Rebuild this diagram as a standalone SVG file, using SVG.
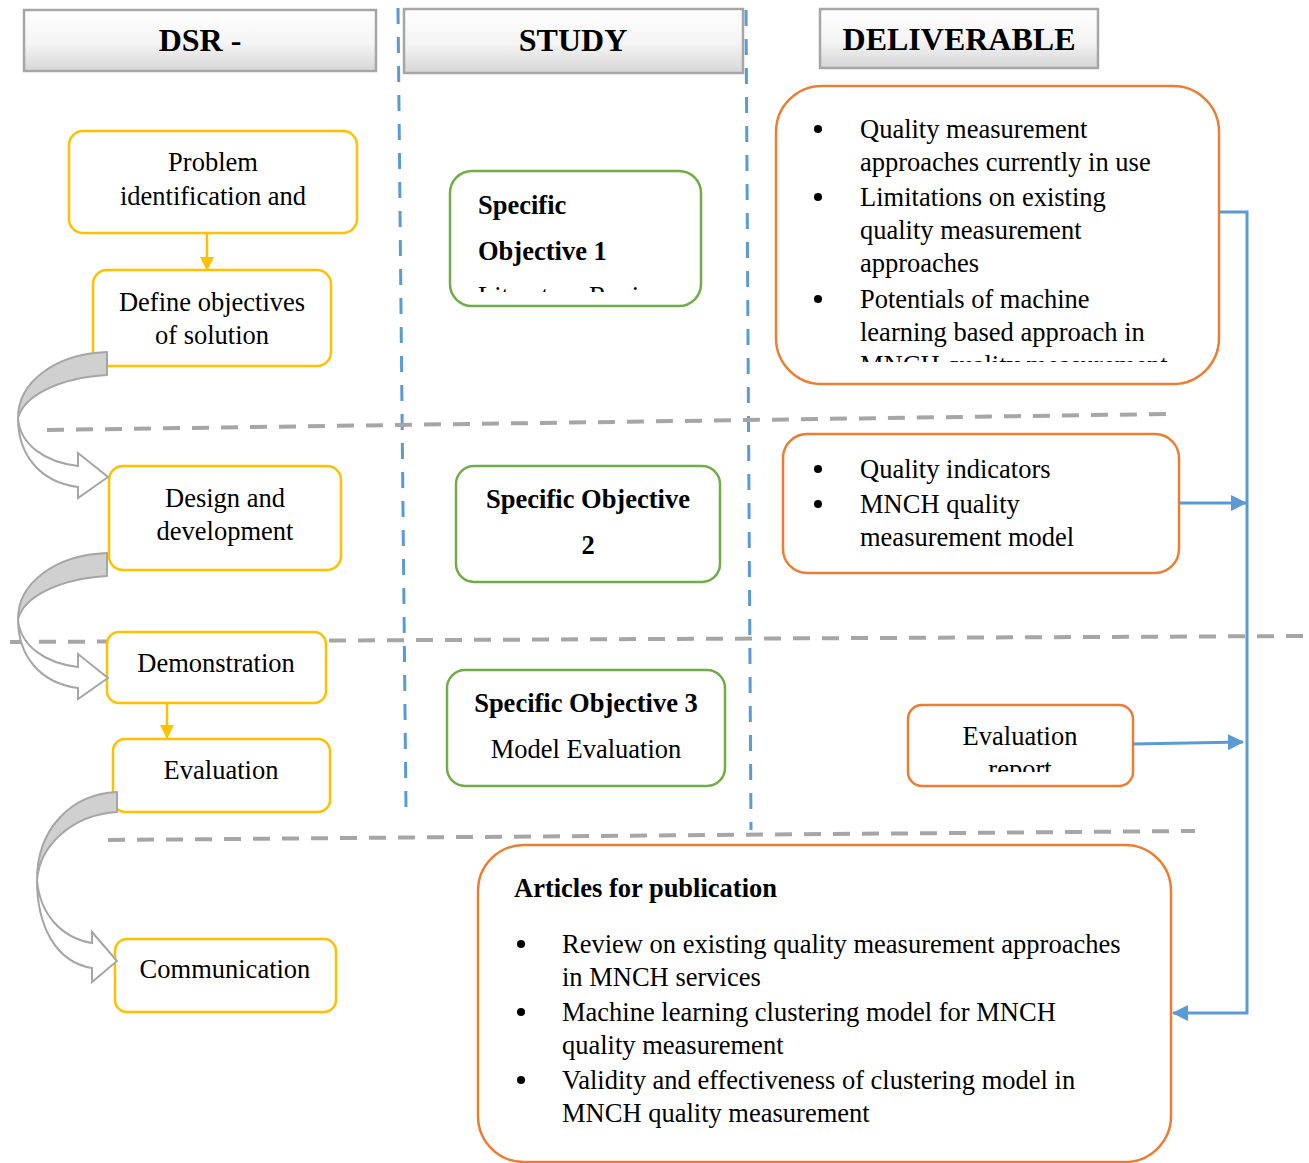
<svg xmlns="http://www.w3.org/2000/svg" width="1309" height="1163" viewBox="0 0 1309 1163">
  <defs>
    <linearGradient id="hdrFill" x1="0" y1="0" x2="0" y2="1">
      <stop offset="0" stop-color="#ffffff"/>
      <stop offset="0.55" stop-color="#f4f4f4"/>
      <stop offset="1" stop-color="#d6d6d6"/>
    </linearGradient>
    <marker id="blueHead" markerUnits="userSpaceOnUse" markerWidth="16" markerHeight="16" refX="15" refY="8" orient="auto">
      <path d="M0,0 L16,8 L0,16 Z" fill="#5b9bd5"/>
    </marker>
    <marker id="yellowHead" markerUnits="userSpaceOnUse" markerWidth="14" markerHeight="14" refX="13" refY="7" orient="auto">
      <path d="M0,0 L14,7 L0,14 Z" fill="#ffc000"/>
    </marker>
    <clipPath id="clipSO1"><rect x="450" y="171" width="252" height="121"/></clipPath>
    <clipPath id="clipD1"><rect x="776" y="86" width="444" height="276"/></clipPath>
    <clipPath id="clipD3"><rect x="908" y="705" width="226" height="67"/></clipPath>
  </defs>
  <style>
    .hdr { fill: url(#hdrFill); stroke: #a6a6a6; stroke-width: 2.5; }
    .hdrText { font-family: "Liberation Serif", "Times New Roman", serif; font-weight: bold; font-size: 32px; fill: #000; text-anchor: middle; }
    .yel { fill: #fff; stroke: #ffc000; stroke-width: 2.5; }
    .grn { fill: #fff; stroke: #70ad47; stroke-width: 2.5; }
    .org { fill: #fff; stroke: #ed7d31; stroke-width: 2.5; }
    .t { font-family: "Liberation Serif", "Times New Roman", serif; font-size: 26.5px; fill: #000; }
    .c { text-anchor: middle; }
    .b { font-weight: bold; }
    .vdash { stroke: #5b9bd5; stroke-width: 3; stroke-dasharray: 16 13; fill: none; }
    .hdash { stroke: #a6a6a6; stroke-width: 4; stroke-dasharray: 17 12; fill: none; }
    .blue { stroke: #5b9bd5; stroke-width: 3; fill: none; }
    .yline { stroke: #ffc000; stroke-width: 2.5; fill: none; }
    .bandTop { fill: #d0d0d0; stroke: #a6a6a6; stroke-width: 2; stroke-linejoin: round; }
    .bandLow { fill: #fff; stroke: #a6a6a6; stroke-width: 2; stroke-linejoin: miter; }
    .dot { fill: #000; }
  </style>

  <!-- column and phase separators -->
  <g id="separators">
    <path class="vdash" d="M398,8 L406,810"/>
    <path class="vdash" d="M746,10 L751,830"/>
    <path class="hdash" d="M47,430 L1167,414"/>
    <path class="hdash" d="M10,642 L1305,636"/>
    <path class="hdash" d="M108,840 L1195,831"/>
  </g>

  <!-- column headers -->
  <g id="hdr-dsr">
    <rect class="hdr" x="24" y="10" width="352" height="61"/>
    <text class="hdrText" x="200" y="51">DSR -</text>
  </g>
  <g id="hdr-study">
    <rect class="hdr" x="404" y="9" width="339" height="64"/>
    <text class="hdrText" x="573" y="51">STUDY</text>
  </g>
  <g id="hdr-deliverable">
    <rect class="hdr" x="820" y="9" width="278" height="59"/>
    <text class="hdrText" x="959" y="50">DELIVERABLE</text>
  </g>

  <!-- DSR phases -->
  <g id="dsr-problem">
    <rect class="yel" x="69" y="131" width="288" height="102" rx="14"/>
    <text class="t c" x="213" y="171">Problem</text>
    <text class="t c" x="213" y="205">identification and</text>
  </g>
  <g id="dsr-objectives">
    <rect class="yel" x="93" y="270" width="238" height="96" rx="14"/>
    <text class="t c" x="212" y="311">Define objectives</text>
    <text class="t c" x="212" y="344">of solution</text>
  </g>
  <g id="dsr-design">
    <rect class="yel" x="109" y="466" width="232" height="104" rx="14"/>
    <text class="t c" x="225" y="507">Design and</text>
    <text class="t c" x="225" y="540">development</text>
  </g>
  <g id="dsr-demonstration">
    <rect class="yel" x="107" y="632" width="219" height="71" rx="12"/>
    <text class="t c" x="216" y="672">Demonstration</text>
  </g>
  <g id="dsr-evaluation">
    <rect class="yel" x="113" y="739" width="217" height="73" rx="12"/>
    <text class="t c" x="221" y="779">Evaluation</text>
  </g>
  <g id="dsr-communication">
    <rect class="yel" x="115" y="939" width="221" height="73" rx="12"/>
    <text class="t c" x="225" y="978">Communication</text>
  </g>

  <!-- study objectives -->
  <g id="so-1">
    <rect class="grn" x="450" y="171" width="251" height="135" rx="22"/>
    <text class="t b" x="478" y="214">Specific</text>
    <text class="t b" x="478" y="260">Objective 1</text>
    <g clip-path="url(#clipSO1)">
      <text class="t" x="478" y="305">Literature Review</text>
    </g>
  </g>
  <g id="so-2">
    <rect class="grn" x="456" y="466" width="264" height="116" rx="18"/>
    <text class="t b c" x="588" y="508">Specific Objective</text>
    <text class="t b c" x="588" y="554">2</text>
  </g>
  <g id="so-3">
    <rect class="grn" x="447" y="670" width="278" height="116" rx="18"/>
    <text class="t b c" x="586" y="712">Specific Objective 3</text>
    <text class="t c" x="586" y="758">Model Evaluation</text>
  </g>

  <!-- deliverables -->
  <g id="del-review">
    <rect class="org" x="776" y="86" width="443" height="298" rx="46"/>
    <circle class="dot" cx="818" cy="129" r="4"/>
    <circle class="dot" cx="818" cy="197" r="4"/>
    <circle class="dot" cx="818" cy="299" r="4"/>
    <text class="t" x="860" y="138">Quality measurement</text>
    <text class="t" x="860" y="171">approaches currently in use</text>
    <text class="t" x="860" y="206">Limitations on existing</text>
    <text class="t" x="860" y="239">quality measurement</text>
    <text class="t" x="860" y="272">approaches</text>
    <text class="t" x="860" y="308">Potentials of machine</text>
    <text class="t" x="860" y="341">learning based approach in</text>
    <g clip-path="url(#clipD1)">
      <text class="t" x="860" y="374">MNCH quality measurement</text>
    </g>
  </g>
  <g id="del-model">
    <rect class="org" x="783" y="434" width="396" height="139" rx="24"/>
    <circle class="dot" cx="818" cy="469" r="4"/>
    <circle class="dot" cx="818" cy="504" r="4"/>
    <text class="t" x="860" y="478">Quality indicators</text>
    <text class="t" x="860" y="513">MNCH quality</text>
    <text class="t" x="860" y="546">measurement model</text>
  </g>
  <g id="del-evaluation">
    <rect class="org" x="908" y="705" width="225" height="81" rx="14"/>
    <text class="t c" x="1020" y="745">Evaluation</text>
    <g clip-path="url(#clipD3)">
      <text class="t c" x="1020" y="778">report</text>
    </g>
  </g>
  <g id="del-articles">
    <rect class="org" x="478" y="845" width="693" height="317" rx="46"/>
    <text class="t b" x="514" y="897">Articles for publication</text>
    <circle class="dot" cx="521" cy="944" r="4"/>
    <circle class="dot" cx="521" cy="1012" r="4"/>
    <circle class="dot" cx="521" cy="1080" r="4"/>
    <text class="t" x="562" y="953">Review on existing quality measurement approaches</text>
    <text class="t" x="562" y="986">in MNCH services</text>
    <text class="t" x="562" y="1021">Machine learning clustering model for MNCH</text>
    <text class="t" x="562" y="1054">quality measurement</text>
    <text class="t" x="562" y="1089">Validity and effectiveness of clustering model in</text>
    <text class="t" x="562" y="1122">MNCH quality measurement</text>
  </g>

  <!-- connectors -->
  <g id="connectors">
    <path class="yline" d="M207,233 L207,270" marker-end="url(#yellowHead)"/>
    <path class="yline" d="M167,703 L167,738" marker-end="url(#yellowHead)"/>

    <path class="blue" d="M1219,212 H1247 V1013 H1173" marker-end="url(#blueHead)"/>
    <path class="blue" d="M1179,503 H1246" marker-end="url(#blueHead)"/>
    <path class="blue" d="M1133,744 L1243,742" marker-end="url(#blueHead)"/>

    <!-- curved phase arrows -->
    <path class="bandLow" d="M18,418 C20,445 45,462 78,466 L78,453 L108,477 L78,498 L78,487 C40,482 18,455 18,418 Z"/>
    <path class="bandTop" d="M107,352 C55,354 18,382 18,418 C24,396 58,378 107,375 Z"/>

    <path class="bandLow" d="M18,619 C20,646 45,663 78,667 L78,654 L108,678 L78,699 L78,688 C40,683 18,656 18,619 Z"/>
    <path class="bandTop" d="M107,553 C55,555 18,583 18,619 C24,597 58,579 107,576 Z"/>

    <path class="bandLow" d="M37,880 C40,915 62,938 92,943 L92,932 L117,961 L92,982 L92,968 C55,962 37,925 37,880 Z"/>
    <path class="bandTop" d="M117,792 C70,794 37,830 37,880 C40,845 72,815 117,812 Z"/>
  </g>
</svg>
